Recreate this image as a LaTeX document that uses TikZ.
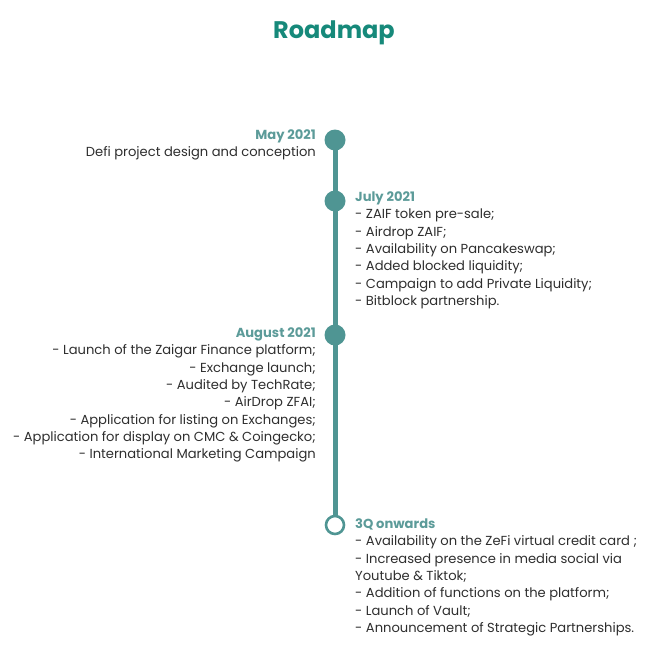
\documentclass[tikz,border=0pt]{standalone}
\usepackage{fontspec}
\setmainfont{Poppins}
\usetikzlibrary{backgrounds}
\definecolor{titlegreen}{HTML}{16897A}
\definecolor{teal}{HTML}{4F9593}
\definecolor{datecol}{HTML}{5C9B99}
\definecolor{txt}{HTML}{2E2E2E}
\begin{document}
\begin{tikzpicture}[x=1pt,y=-1pt,
  dot/.style={circle,fill=teal,minimum size=21pt,inner sep=0pt},
  hollow/.style={circle,draw=teal,line width=2.6pt,fill=white,minimum size=18pt,inner sep=0pt},
  stem/.style={draw=teal,line width=5pt},
  block/.style={inner sep=0pt,text=txt,font=\fontsize{13.1}{17.35}\selectfont}]
\useasboundingbox (0,0) rectangle (669,657);
\node[font=\fontsize{24}{28}\selectfont\bfseries,text=titlegreen] (title) at (334,33) {Roadmap};
\node[dot] (n1) at (335,140) {};
\node[dot] (n2) at (335,201) {};
\node[dot] (n3) at (335,335) {};
\node[hollow] (n4) at (335,525) {};
\begin{pgfonlayer}{background}
\draw[stem] (n1.center) -- (n2.center) -- (n3.center) -- (n4.center);
\end{pgfonlayer}
\node[block,align=right,anchor=north east] (may) at (316,129.5) {\textcolor{datecol}{\bfseries May 2021}\\Defi project design and conception};
\node[block,align=left,anchor=north west] (jul) at (355,191.5) {\textcolor{datecol}{\bfseries July 2021}\\- ZAIF token pre-sale;\\- Airdrop ZAIF;\\- Availability on Pancakeswap;\\- Added blocked liquidity;\\- Campaign to add Private Liquidity;\\- Bitblock partnership.};
\node[block,align=right,anchor=north east] (aug) at (316,327.5) {\textcolor{datecol}{\bfseries August 2021}\\- Launch of the Zaigar Finance platform;\\- Exchange launch;\\- Audited by TechRate;\\- AirDrop ZFAI;\\- Application for listing on Exchanges;\\- Application for display on CMC \& Coingecko;\\- International Marketing Campaign};
\node[block,align=left,anchor=north west] (q3) at (355,518.5) {\textcolor{datecol}{\bfseries 3Q onwards}\\- Availability on the ZeFi virtual credit card ;\\- Increased presence in media social via\\Youtube \& Tiktok;\\- Addition of functions on the platform;\\- Launch of Vault;\\- Announcement of Strategic Partnerships.};
\end{tikzpicture}
\end{document}
